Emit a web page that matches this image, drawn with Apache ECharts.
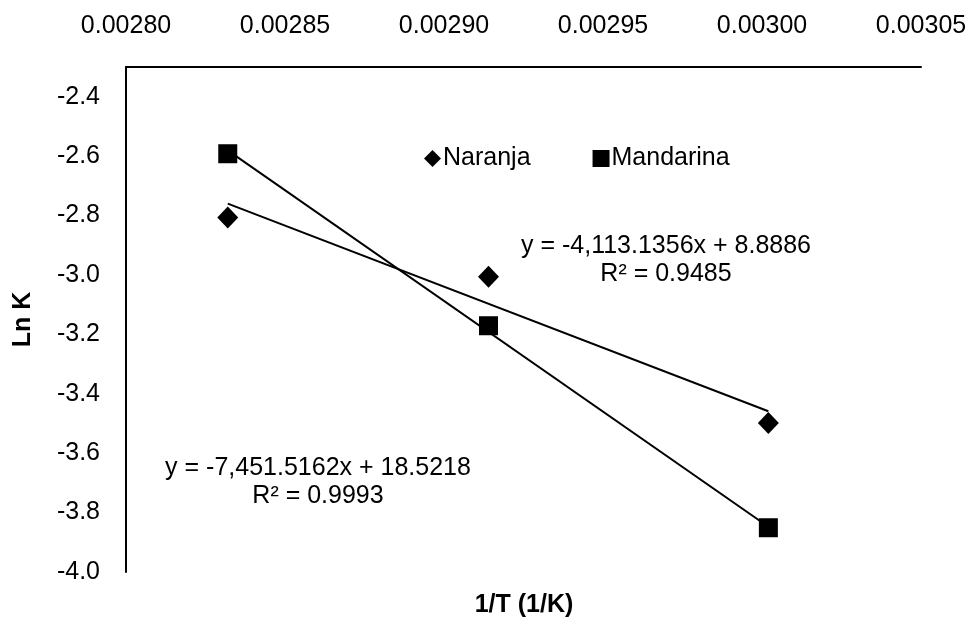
<!DOCTYPE html>
<html>
<head>
<meta charset="utf-8">
<script src="https://cdn.jsdelivr.net/npm/echarts@6/dist/echarts.min.js"></script>
<style>html,body{margin:0;padding:0;background:#fff}#c{width:972px;height:622px}</style>
</head>
<body>
<div id="c"></div>
<script>
// Data
var invT = [0.002832, 0.002914, 0.003002];
var naranja = [-2.807, -3.006, -3.498];
var mandarina = [-2.592, -3.171, -3.851];
// Trend line coefficients as printed on the chart
var slopes = [-4113.1356, -7451.5162];
var intercepts = [8.8886, 18.5218];
var eqLabels = ['y = -4,113.1356x + 8.8886\nR\u00b2 = 0.9485', 'y = -7,451.5162x + 18.5218\nR\u00b2 = 0.9993'];
var seriesNames = ['Naranja', 'Mandarina'];
var xTitle = '1/T (1/K)';
var yTitle = 'Ln K';

function pts(a, b) { return a.map(function (x, i) { return [x, b[i]]; }); }
function trend(k) {
  var x0 = invT[0], x1 = invT[invT.length - 1];
  return [[x0, slopes[k] * x0 + intercepts[k]], [x1, slopes[k] * x1 + intercepts[k]]];
}
var FONT = 'Liberation Sans, Arial, sans-serif';
var chart = echarts.init(document.getElementById('c'));
chart.setOption({
  animation: false,
  backgroundColor: '#fff',
  textStyle: { fontFamily: FONT, color: '#000' },
  grid: { left: 126, right: 51, top: 67, bottom: 50, containLabel: false, outerBoundsMode: 'none' },
  legend: {
    data: [{ name: seriesNames[0], icon: 'diamond' }, { name: seriesNames[1], icon: 'rect' }],
    left: 419, top: 141, itemWidth: 17, itemHeight: 17, itemGap: 62,
    itemStyle: { opacity: 1 },
    textStyle: { fontSize: 25, color: '#000', fontFamily: FONT, padding: [0, 0, 0, -3] }
  },
  xAxis: {
    type: 'value', position: 'top', min: 0.00280, max: 0.00305, interval: 0.00005,
    axisLine: { show: true, lineStyle: { color: '#000', width: 2 } },
    axisTick: { show: false }, splitLine: { show: false },
    axisLabel: { fontSize: 25, color: '#000', margin: 28, fontFamily: FONT, formatter: function (v) { return v.toFixed(5); } }
  },
  yAxis: {
    type: 'value', min: -4.0, max: -2.3, interval: 0.2,
    name: yTitle, nameLocation: 'middle', nameGap: 90, nameRotate: 90,
    nameTextStyle: { fontSize: 25, fontWeight: 'bold', color: '#000', fontFamily: FONT },
    axisLine: { show: true, lineStyle: { color: '#000', width: 2 } },
    axisTick: { show: false }, splitLine: { show: false },
    axisLabel: { fontSize: 25, color: '#000', margin: 26, fontFamily: FONT, showMaxLabel: false, formatter: function (v) { return v.toFixed(1); } }
  },
  graphic: [
    { type: 'text', x: 524, y: 605, style: { text: xTitle, font: 'bold 25px ' + FONT, fill: '#000', align: 'center', verticalAlign: 'middle' } },
    { type: 'text', x: 666, y: 260, style: { text: eqLabels[0], font: '25px ' + FONT, fill: '#000', align: 'center', verticalAlign: 'middle', lineHeight: 28 } },
    { type: 'text', x: 318, y: 482, style: { text: eqLabels[1], font: '25px ' + FONT, fill: '#000', align: 'center', verticalAlign: 'middle', lineHeight: 28 } }
  ],
  series: [
    { name: seriesNames[0], type: 'scatter', symbol: 'diamond', symbolSize: [21, 22], itemStyle: { color: '#000', opacity: 1 }, data: pts(invT, naranja), z: 3 },
    { name: seriesNames[1], type: 'scatter', symbol: 'rect', symbolSize: 19, itemStyle: { color: '#000', opacity: 1 }, data: pts(invT, mandarina), z: 3 },
    { name: 'trend1', type: 'line', symbol: 'none', lineStyle: { color: '#000', width: 2 }, data: trend(0), silent: true, z: 2 },
    { name: 'trend2', type: 'line', symbol: 'none', lineStyle: { color: '#000', width: 2 }, data: trend(1), silent: true, z: 2 }
  ]
});
</script>
</body>
</html>
